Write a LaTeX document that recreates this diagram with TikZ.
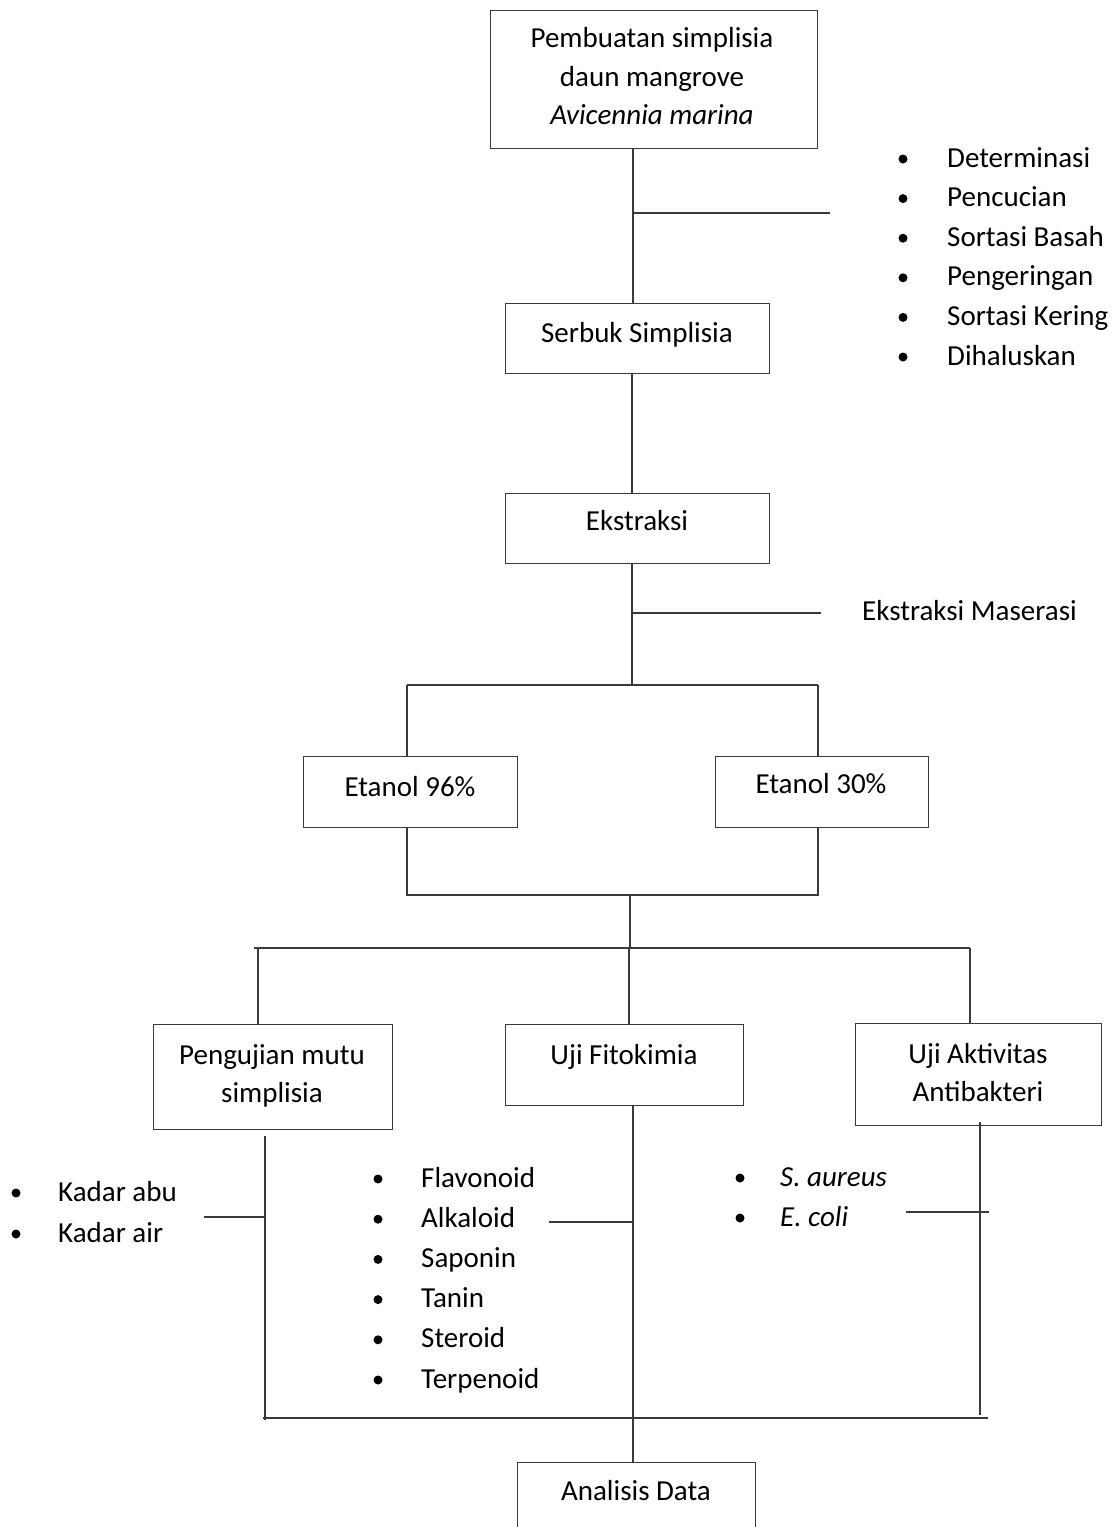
\documentclass[tikz,border=0pt]{standalone}
\usepackage{fontspec}
\setmainfont{Carlito}
\definecolor{linec}{HTML}{3A3A3A}
\begin{document}
\begin{tikzpicture}[x=1pt,y=-1pt,
  every node/.style={font=\fontsize{29}{38}\selectfont, text=black},
  box/.style={draw=linec, line width=1.4pt, anchor=north west, inner sep=0pt},
  lbl/.style={anchor=base, inner sep=0pt},
  item/.style={anchor=base west, inner sep=0pt},
  conn/.style={draw=linec, line width=1.3pt},
  dot/.style={circle, fill=black, draw=none, inner sep=0pt, minimum size=9pt}]
\useasboundingbox (0,0) rectangle (1113,1527);

% ---------- boxes ----------
\node[box, minimum width=327pt, minimum height=138pt] (top) at (490,10) {};
\node[box, minimum width=264pt, minimum height=70pt] (serbuk) at (505,303) {};
\node[box, minimum width=264pt, minimum height=70pt] (ekst) at (505,493) {};
\node[box, minimum width=214pt, minimum height=71pt] (e96) at (303,756) {};
\node[box, minimum width=213pt, minimum height=71pt] (e30) at (715,756) {};
\node[box, minimum width=239pt, minimum height=105pt] (peng) at (153,1024) {};
\node[box, minimum width=238pt, minimum height=81pt] (fito) at (505,1024) {};
\node[box, minimum width=246pt, minimum height=102pt] (akt) at (855,1023) {};
\begin{scope}
\clip (0,0) rectangle (1113,1527);
\node[box, minimum width=238pt, minimum height=90pt] (ana) at (517,1462) {};
\end{scope}

% ---------- box texts ----------
\node[lbl] (topa) at (652,47) {Pembuatan simplisia};
\node[lbl] (topb) at (652,86) {daun mangrove};
\node[lbl] (topc) at (652,124) {\itshape Avicennia marina};
\node[lbl] (serbukt) at (637,342) {Serbuk Simplisia};
\node[lbl] (ekstt) at (637,530) {Ekstraksi};
\node[lbl] (e96t) at (410,796) {Etanol 96\%};
\node[lbl] (e30t) at (821,793) {Etanol 30\%};
\node[lbl] (denga) at (272,1064) {Pengujian mutu};
\node[lbl] (dengb) at (272,1102) {simplisia};
\node[lbl] (fitot) at (624,1064) {Uji Fitokimia};
\node[lbl] (akta) at (978,1063) {Uji Aktivitas};
\node[lbl] (aktb) at (978,1101) {Antibakteri};
\node[lbl] (anat) at (636,1500) {Analisis Data};
\node[item] (maser) at (862,620) {Ekstraksi Maserasi};

% ---------- lists ----------
\foreach \t [count=\i] in {Determinasi, Pencucian, Sortasi Basah, Pengeringan, Sortasi Kering, Dihaluskan}{
  \pgfmathsetmacro\yb{167+39.6*(\i-1)}
  \node[item] (pl\i) at (947,\yb) {\t};
  \node[dot] (pd\i) at (903,\yb-8) {};
}
\foreach \t [count=\i] in {Flavonoid, Alkaloid, Saponin, Tanin, Steroid, Terpenoid}{
  \pgfmathsetmacro\yb{1187+40.2*(\i-1)}
  \node[item] (fl\i) at (421,\yb) {\t};
  \node[dot] (fd\i) at (378,\yb-8) {};
}
\foreach \t [count=\i] in {Kadar abu, Kadar air}{
  \pgfmathsetmacro\yb{1201+41*(\i-1)}
  \node[item] (kl\i) at (58,\yb) {\t};
  \node[dot] (kd\i) at (16,\yb-8) {};
}
\foreach \t [count=\i] in {S. aureus, E. coli}{
  \pgfmathsetmacro\yb{1186+40*(\i-1)}
  \node[item] (bl\i) at (780,\yb) {\itshape \t};
  \node[dot] (bd\i) at (740,\yb-8) {};
}

% ---------- junction coordinates ----------
\coordinate (j1) at (633,213);
\coordinate (b1) at (830,213);
\coordinate (j2) at (632,613);
\coordinate (b2) at (821,613);
\coordinate (j3) at (632,685);
\coordinate (sL) at (407,685);
\coordinate (sR) at (818,685);
\coordinate (mL) at (407,895);
\coordinate (mR) at (818,895);
\coordinate (j4) at (630,948);
\coordinate (hL) at (254,948);
\coordinate (hR) at (970,948);
\coordinate (d1) at (258,948);
\coordinate (d2) at (629,948);
\coordinate (v1) at (265,1420);
\coordinate (v2) at (633,1418);
\coordinate (v3) at (980,1415);
\coordinate (bL) at (263,1418);
\coordinate (bR) at (988,1418);
\coordinate (k1) at (204,1217);
\coordinate (k2) at (549,1222);
\coordinate (k3) at (906,1212);
\coordinate (k3e) at (989,1212);

% ---------- connectors ----------
\draw[conn] (top.south -| j1) -- (serbuk.north -| j1);
\draw[conn] (j1) -- (b1);
\draw[conn] (serbuk.south -| j2) -- (ekst.north -| j2);
\draw[conn] (ekst.south -| j2) -- (j3);
\draw[conn] (j2) -- (b2);
\draw[conn] (sL) -- (sR);
\draw[conn] (sL) -- (e96.north -| sL);
\draw[conn] (sR) -- (e30.north -| sR);
\draw[conn] (e96.south -| mL) -- (mL) -- (mR) -- (e30.south -| mR);
\draw[conn] (mL -| j4) -- (j4);
\draw[conn] (hL) -- (hR);
\draw[conn] (d1) -- (peng.north -| d1);
\draw[conn] (d2) -- (fito.north -| d2);
\draw[conn] (hR) -- (akt.north -| hR);
\draw[conn, shorten <=6pt] (peng.south -| v1) -- (v1);
\draw[conn] (fito.south -| v2) -- (ana.north -| v2);
\draw[conn, shorten <=-4pt] (akt.south -| v3) -- (v3);
\draw[conn] (bL) -- (bR);
\draw[conn] (k1) -- (k1 -| v1);
\draw[conn] (k2) -- (k2 -| v2);
\draw[conn] (k3) -- (k3e);
\end{tikzpicture}
\end{document}
